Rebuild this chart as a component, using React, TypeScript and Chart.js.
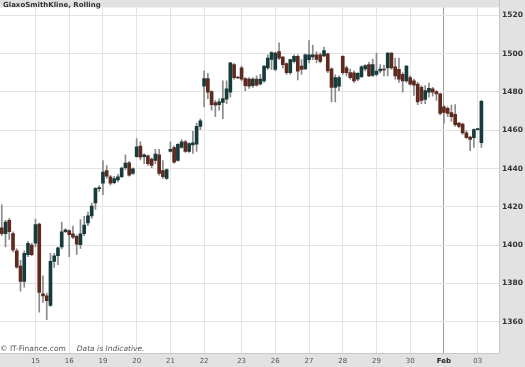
import React, { useEffect, useRef } from 'react';
import { Chart, registerables } from 'chart.js';

Chart.register(...registerables);

// Hourly candles (index = candle number)
const opens = [
  1409, 1406, 1413, 1406, 1397, 1389, 1381, 1395, 1400,
  1401, 1411, 1374.5, 1373.5, 1368.5, 1391.5, 1394.5, 1399, 1407,
  1407.6, 1405.9, 1404.6, 1400.3, 1406, 1411.6, 1415.3, 1422, 1429.5,
  1432.3, 1439, 1435.7, 1432.6, 1434, 1435.7, 1440.4, 1443, 1437.4,
  1446.2, 1451.8, 1446.2, 1446.7, 1445, 1444.2, 1447.2, 1439, 1434.8,
  1449, 1451, 1444.2, 1451, 1454, 1448.9, 1452.3, 1452.7, 1462,
  1483, 1487, 1480.2, 1474.5, 1473.4, 1474.5, 1476.2, 1479.9, 1494.3, 1487.5,
  1492.6, 1487, 1486.7, 1483.3, 1486.7, 1484.2, 1485.8, 1492.6, 1497,
  1491.8, 1501.1, 1498.3, 1494.9, 1490.1, 1496, 1498.6, 1493.5, 1492.1,
  1496.9, 1498.3, 1499.4, 1499.4, 1498.9, 1500, 1492.1, 1482.4, 1483,
  1498.6, 1492.6, 1490.1, 1490, 1486.7, 1488, 1492.1, 1494.3, 1488.7,
  1489.2, 1491, 1492, 1492.6, 1500.3, 1493.2, 1491.8, 1489.2, 1485.8,
  1487.5, 1485.8, 1484.1, 1482.4, 1476.1, 1479.9, 1481.6, 1480.2, 1479,
  1472.2, 1471.4, 1469.3, 1468.3, 1463.7, 1463.2, 1458.6, 1456.5, 1456.1,
  1460.3, 1453.5,
];
const highs = [
  1421, 1413, 1414, 1407, 1398, 1392, 1397, 1402, 1401,
  1413.6, 1411.5, 1384, 1375, 1395.7, 1395.7, 1399, 1412, 1408.5,
  1408, 1410, 1405.4, 1413.3, 1415, 1417.3, 1422, 1430, 1431,
  1444.2, 1441.6, 1436.5, 1436, 1437, 1440.8, 1447.2, 1443.8, 1440.4,
  1455.7, 1453.9, 1447.7, 1447.2, 1445.5, 1450.1, 1450, 1444.2, 1439.9,
  1454, 1451.8, 1453, 1455.2, 1454.7, 1453.5, 1459.5, 1463.7, 1466,
  1491, 1489.8, 1480.8, 1475.6, 1476.5, 1485.8, 1485.8, 1495.5, 1494.8, 1488,
  1493.5, 1487.5, 1487.5, 1487.5, 1488.4, 1489.2, 1493.8, 1499.4, 1501.1,
  1500.8, 1505.7, 1498.6, 1495.2, 1497.2, 1499.4, 1499.4, 1496.9, 1500,
  1506.8, 1504.5, 1501, 1500.3, 1503.4, 1500.3, 1492.6, 1489, 1488.4,
  1499, 1493.5, 1492, 1491, 1490.1, 1493.8, 1494.3, 1495.5, 1497.2,
  1500.3, 1494.3, 1494, 1500.6, 1500.6, 1497.7, 1497.7, 1490.1, 1493.8,
  1488.4, 1486.7, 1485, 1483.3, 1483.3, 1484.6, 1482.4, 1480.7, 1479.4,
  1473.1, 1472.2, 1473.1, 1473.4, 1464.2, 1463.7, 1459.8, 1457, 1460.8,
  1460.8, 1475.6,
];
const lows = [
  1405, 1399, 1403, 1396.5, 1388, 1376, 1378, 1394, 1394.5,
  1399, 1365, 1370, 1361, 1368, 1388.4, 1389.8, 1398, 1406.5,
  1394, 1403.4, 1395.2, 1398.3, 1405, 1410.2, 1414, 1418.7, 1428,
  1426.3, 1434.8, 1431.4, 1432, 1433, 1435.2, 1439.4, 1436, 1436.9,
  1445.9, 1444.5, 1442.5, 1441.6, 1440.4, 1442.5, 1436.5, 1434.8, 1434.3,
  1448.5, 1442.8, 1443.8, 1450.6, 1448.4, 1448.4, 1447.9, 1448.9, 1460.3,
  1472.2, 1476.5, 1470.5, 1467.1, 1470.5, 1466, 1473.9, 1477.3, 1486.7, 1487,
  1485.8, 1480.7, 1481.9, 1482.4, 1483, 1483.6, 1485, 1491.8, 1491.8,
  1491, 1496.9, 1492.6, 1489.2, 1489.2, 1495.2, 1486.3, 1489.2, 1491.8,
  1495.2, 1496.9, 1495.2, 1495.2, 1498.3, 1490.1, 1474.8, 1474.8, 1480.7,
  1489.2, 1488.4, 1486.7, 1485, 1485.8, 1487.5, 1491, 1488, 1488,
  1488.4, 1490, 1488.4, 1488.4, 1491.8, 1486.7, 1485, 1479.9, 1485,
  1483.6, 1478.2, 1473.4, 1473.9, 1473.9, 1477.3, 1477.8, 1475.6, 1468,
  1463.7, 1467.1, 1464.6, 1462, 1461.2, 1457.8, 1455.7, 1449.3, 1451,
  1460, 1451,
];
const closes = [
  1406, 1412, 1407, 1397.5, 1388.5, 1381, 1395.7, 1401, 1395,
  1410.7, 1375.3, 1373.5, 1371, 1391.5, 1394.4, 1398.6, 1407, 1408,
  1405.4, 1404.2, 1400.5, 1405.9, 1410.5, 1415.3, 1420.4, 1429.7, 1430,
  1438.2, 1436, 1432.3, 1434.8, 1435.7, 1440.3, 1442.8, 1436.5, 1439.9,
  1451.3, 1445.9, 1447.2, 1442.5, 1441.6, 1447.6, 1437.4, 1435.7, 1439.4,
  1450, 1443.3, 1452.7, 1454, 1448.9, 1453, 1453.5, 1462, 1464.9,
  1487, 1479.9, 1473.4, 1473.1, 1474.8, 1476.5, 1481.6, 1495.2, 1487.5, 1487.3,
  1486.7, 1483.3, 1483, 1486.7, 1483.6, 1486.7, 1493.5, 1497.7, 1500.6,
  1500.3, 1497.7, 1494.3, 1490.1, 1496.9, 1498.6, 1490.9, 1491.8, 1499.4,
  1499.4, 1499.4, 1497, 1496, 1501.6, 1491, 1482.4, 1487.5, 1487.5,
  1490.1, 1490.1, 1487.5, 1485.8, 1489.7, 1493.2, 1493.8, 1488.4, 1494.3,
  1490.9, 1492, 1491.5, 1500.3, 1492.6, 1488.4, 1486.7, 1485.8, 1493.5,
  1484.1, 1483.6, 1474.8, 1475.6, 1480.7, 1481.9, 1479.9, 1479, 1468.8,
  1469.3, 1468.8, 1467.1, 1462.9, 1462, 1458.6, 1456.1, 1455.2, 1460.3,
  1460.5, 1475.1,
];

// Day boundaries (candle index where each day starts) and their labels
const dayTickIdx = [9, 18, 27, 36, 45, 54, 64, 73, 82, 91, 100, 109, 118, 127];
const dayTickLabels = ['15', '16', '19', '20', '21', '22', '23', '26', '27', '28', '29', '30', 'Feb', '03'];
const priceTicks = [1360, 1380, 1400, 1420, 1440, 1460, 1480, 1500, 1520];

const UP = '#173b3b';
const DOWN = '#5e2a20';
const WICK = '#8a8a8a';
const PANEL = '#e2e2e2';
const GRID = '#e4e4e4';
const MONTH_LINE = '#9a9a9a';

export default function App() {
  const ref = useRef<HTMLCanvasElement>(null);

  useEffect(() => {
    if (!ref.current) return;
    const bodies = opens.map((o, i) => ({ x: i, y: [o, closes[i]] }));
    const wicks = highs.map((h, i) => ({ x: i, y: [lows[i], h] }));
    const colors = opens.map((o, i) => (closes[i] >= o ? UP : DOWN));

    const bgPlugin = {
      id: 'bgPanels',
      beforeDraw(chart: any) {
        const { ctx, chartArea: a, width, height } = chart;
        ctx.save();
        ctx.fillStyle = PANEL;
        ctx.fillRect(0, 0, width, height);
        ctx.fillStyle = '#ffffff';
        ctx.fillRect(a.left, a.top, a.right - a.left, a.bottom - a.top);
        ctx.strokeStyle = '#c8c8c8';
        ctx.lineWidth = 1;
        ctx.beginPath();
        ctx.moveTo(a.right + 0.5, 0);
        ctx.lineTo(a.right + 0.5, a.bottom + 0.5);
        ctx.lineTo(0, a.bottom + 0.5);
        ctx.stroke();
        ctx.restore();
      },
    };

    const chart = new Chart(ref.current, {
      type: 'bar',
      data: {
        datasets: [
          {
            data: bodies as any,
            backgroundColor: colors,
            barThickness: 3,
            minBarLength: 1,
            grouped: false,
            borderWidth: 0,
          } as any,
          {
            data: wicks as any,
            backgroundColor: WICK,
            barThickness: 1,
            grouped: false,
            borderWidth: 0,
          } as any,
        ],
      },
      options: {
        animation: false,
        responsive: false,
        maintainAspectRatio: false,
        layout: { padding: 0 },
        plugins: {
          legend: { display: false },
          tooltip: { enabled: false },
          title: { display: false },
        },
        scales: {
          x: {
            type: 'linear',
            min: -0.472,
            max: 132.7,
            offset: false,
            position: 'bottom',
            afterBuildTicks: (s: any) => {
              s.ticks = dayTickIdx.map((v) => ({ value: v }));
            },
            afterFit: (s: any) => {
              s.height = 14;
            },
            ticks: {
              autoSkip: false,
              maxRotation: 0,
              minRotation: 0,
              padding: 4,
              callback: (v: any) => {
                const k = dayTickIdx.indexOf(Number(v));
                return k >= 0 ? dayTickLabels[k] : '';
              },
              font: (ctx: any) => ({
                family: '"DejaVu Sans", Verdana, sans-serif',
                size: 7,
                weight: ctx.tick && ctx.tick.value === 118 ? 'bold' : 'normal',
              }),
              color: (ctx: any) => (ctx.tick && ctx.tick.value === 118 ? '#222' : '#555'),
            },
            grid: {
              offset: false,
              drawTicks: false,
              color: (ctx: any) => (ctx.tick && ctx.tick.value === 118 ? MONTH_LINE : GRID),
              lineWidth: 1,
            },
            border: { display: false },
          } as any,
          y: {
            type: 'linear',
            position: 'right',
            min: 1343.64,
            max: 1524.14,
            afterBuildTicks: (s: any) => {
              s.ticks = priceTicks.map((v) => ({ value: v }));
            },
            afterFit: (s: any) => {
              s.width = 26;
            },
            ticks: {
              padding: 3,
              callback: (v: any) => String(v),
              font: { family: '"DejaVu Sans", Verdana, sans-serif', size: 7.5, weight: 'bold' },
              color: '#333',
            },
            grid: { drawTicks: false, color: GRID, lineWidth: 1 },
            border: { display: false },
          } as any,
        },
      },
      plugins: [bgPlugin],
    });
    return () => chart.destroy();
  }, []);

  return (
    <div style={{ position: 'fixed', left: 0, top: 0, width: 525, height: 367, overflow: 'hidden' }}>
      <canvas ref={ref} width={525} height={367} style={{ display: 'block', width: 525, height: 367 }} />
      <div
        style={{
          position: 'absolute',
          left: 3,
          top: 0,
          font: 'bold 7px "DejaVu Sans", Verdana, sans-serif',
          lineHeight: '10px',
          color: '#333',
          whiteSpace: 'nowrap',
        }}
      >
        GlaxoSmithKline, Rolling
      </div>
      <div
        style={{
          position: 'absolute',
          left: 0,
          top: 344,
          font: '7.5px "DejaVu Sans", Verdana, sans-serif',
          lineHeight: '10px',
          color: '#555',
          whiteSpace: 'nowrap',
        }}
      >
        © IT-Finance.com
        <span style={{ fontStyle: 'italic', marginLeft: 11 }}>Data is Indicative.</span>
      </div>
    </div>
  );
}
